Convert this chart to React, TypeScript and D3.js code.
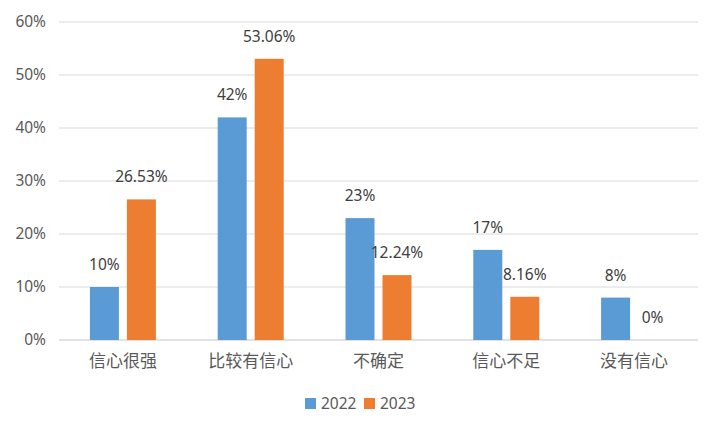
import React from "react";
import * as d3 from "d3";

const categories = ["信心很强", "比较有信心", "不确定", "信心不足", "没有信心"];
const series2022 = [10, 42, 23, 17, 8];
const series2023 = [26.53, 53.06, 12.24, 8.16, 0];
const labels2022 = ["10%", "42%", "23%", "17%", "8%"];
const labels2023 = ["26.53%", "53.06%", "12.24%", "8.16%", "0%"];
const yTicks = [0, 10, 20, 30, 40, 50, 60];
const seriesNames = ["2022", "2023"];
const colors = ["#5B9BD5", "#ED7D31"];

const W = 722;
const H = 434;
const left = 59;
const right = 698;
const top = 22;
const bottom = 340;

export default function App() {
  const x = d3.scaleBand<string>().domain(categories).range([left, right]);
  const y = d3.scaleLinear().domain([0, 60]).range([bottom, top]);
  const barW = 29;
  const gap = 8;
  const numFont = "'Noto Sans', 'DejaVu Sans', sans-serif";
  const cjkFont = "'Noto Sans CJK SC', sans-serif";
  const seriesData = [series2022, series2023];
  const seriesLabels = [labels2022, labels2023];
  return (
    <div style={{ margin: -8, width: W, height: H }}>
      <svg width={W} height={H} style={{ display: "block" }}>
        <rect x={1} y={1} width={W - 2} height={H - 2} fill="#fff" stroke="#d9d9d9" strokeWidth={2} />
        {yTicks.map((t) => (
          <g key={t}>
            <line x1={left} x2={right} y1={y(t)} y2={y(t)} stroke="#d9d9d9" strokeWidth={t === 0 ? 1.5 : 1} />
            <text x={46} y={y(t)} dy="0.35em" textAnchor="end" fontSize={15.5} fill="#595959" fontFamily={numFont}>
              {t}%
            </text>
          </g>
        ))}
        {categories.map((c, i) => {
          const cx = (x(c) as number) + x.bandwidth() / 2;
          return (
            <g key={c}>
              {seriesData.map((s, k) => {
                const bx = k === 0 ? cx - gap / 2 - barW : cx + gap / 2;
                const v = s[i];
                return (
                  <g key={k}>
                    {v > 0 && (
                      <rect x={bx} y={y(v)} width={barW} height={bottom - y(v)} fill={colors[k]} />
                    )}
                    <text
                      x={bx + barW / 2}
                      y={y(v) - 17}
                      textAnchor="middle"
                      fontSize={15.5}
                      fill="#404040"
                      fontFamily={numFont}
                    >
                      {seriesLabels[k][i]}
                    </text>
                  </g>
                );
              })}
              <text x={cx} y={367} textAnchor="middle" fontSize={17} fill="#595959" fontFamily={cjkFont}>
                {c}
              </text>
            </g>
          );
        })}
        {seriesNames.map((n, k) => {
          const lx = 305 + k * 59;
          return (
            <g key={n}>
              <rect x={lx} y={398} width={11} height={11} fill={colors[k]} />
              <text x={lx + 16} y={404} dy="0.35em" fontSize={15.5} fill="#595959" fontFamily={numFont}>
                {n}
              </text>
            </g>
          );
        })}
      </svg>
    </div>
  );
}
